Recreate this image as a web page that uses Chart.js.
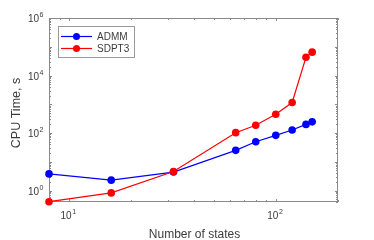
<!DOCTYPE html>
<html>
<head>
<meta charset="utf-8">
<script src="https://cdn.jsdelivr.net/npm/chart.js@4.4.0/dist/chart.umd.min.js"></script>
<style>
  html, body { margin: 0; padding: 0; background: #fff; }
  canvas { display: block; }
</style>
</head>
<body>
<canvas id="cpuChart" width="374" height="240"></canvas>
<script>
// données
const states = [8, 16, 32, 64, 80, 100, 120, 140, 150];
const admmTime = [3.8, 2.3, 4.4, 25, 50, 83, 128, 200, 245];
const sdpt3Time = [0.41, 0.83, 4.6, 103, 186, 450, 1150, 43000, 65000];
const seriesNames = ["ADMM", "SDPT3"];
const seriesColors = ["#0000ff", "#ff0000"];

// ticks
const xMajor = [10, 100];
const xLabels = ["1", "2"];     // exposants
const yMajor = [1, 100, 1e4, 1e6];
const yLabels = ["0", "2", "4", "6"];
const xMin = 8, xMax = 200;
const yMin = 0.4, yMax = 1e6;

const xTitle = "Number of states";
const yTitle = "CPU Time, s";

const axisColor = "#8a8a8a";
const textColor = "#3c3c3c";
const font = "'Liberation Sans', Arial, sans-serif";

function minorTicks(lo, hi) {
  const out = [];
  for (let e = Math.floor(Math.log10(lo)); e <= Math.ceil(Math.log10(hi)); e++) {
    for (let k = 1; k < 10; k++) {
      const v = k * Math.pow(10, e);
      if (v >= lo && v <= hi) out.push(v);
    }
  }
  return out;
}

// "10" + exposant
function drawPow(ctx, exp, x, y, align) {
  ctx.font = "10px " + font;
  const w1 = ctx.measureText("10").width;
  ctx.font = "7px " + font;
  const w2 = ctx.measureText(exp).width;
  let x0 = x;
  if (align === "center") x0 = x - (w1 + w2) / 2;
  if (align === "right") x0 = x - (w1 + w2);
  ctx.textAlign = "left";
  ctx.textBaseline = "alphabetic";
  ctx.font = "10px " + font;
  ctx.fillText("10", x0, y);
  ctx.font = "7px " + font;
  ctx.fillText(exp, x0 + w1 + 0.5, y - 5);
}

const axesPlugin = {
  id: "matlabAxes",
  beforeDatasetsDraw(chart) {
    const ctx = chart.ctx;
    const { left, right, top, bottom } = chart.chartArea;
    const xs = chart.scales.x, ys = chart.scales.y;
    ctx.save();
    ctx.strokeStyle = axisColor;
    ctx.lineWidth = 1;
    ctx.beginPath();
    // ticks x (bas et haut)
    minorTicks(xMin, xMax).forEach(v => {
      const px = Math.round(xs.getPixelForValue(v)) + 0.5;
      const len = xMajor.includes(v) ? 3 : 2;
      ctx.moveTo(px, bottom); ctx.lineTo(px, bottom - len);
      ctx.moveTo(px, top); ctx.lineTo(px, top + len);
    });
    // ticks y (gauche et droite)
    minorTicks(yMin, yMax).forEach(v => {
      const py = Math.round(ys.getPixelForValue(v)) + 0.5;
      const isDecade = Math.abs(Math.log10(v) - Math.round(Math.log10(v))) < 1e-9;
      const len = isDecade ? 3 : 2;
      ctx.moveTo(left, py); ctx.lineTo(left + len, py);
      ctx.moveTo(right, py); ctx.lineTo(right - len, py);
    });
    ctx.stroke();
    ctx.strokeRect(left + 0.5, top + 0.5, right - left - 1, bottom - top - 1);

    // labels
    ctx.fillStyle = textColor;
    xMajor.forEach((v, i) => {
      drawPow(ctx, xLabels[i], xs.getPixelForValue(v) - 1, bottom + 16.5, "center");
    });
    yMajor.forEach((v, i) => {
      drawPow(ctx, yLabels[i], left - 6, ys.getPixelForValue(v) + 4, "right");
    });

    // titres
    ctx.font = "12px " + font;
    ctx.textAlign = "center";
    ctx.textBaseline = "alphabetic";
    ctx.fillText(xTitle, (left + right) / 2 + 1, 238);
    ctx.font = "12.5px " + font;
    ctx.translate(20, (top + bottom) / 2 + 3);
    ctx.rotate(-Math.PI / 2);
    ctx.fillText(yTitle, 0, 0);
    ctx.restore();
  },
  afterDraw(chart) {
    // légende façon MATLAB
    const ctx = chart.ctx;
    ctx.save();
    ctx.fillStyle = "#fff";
    ctx.fillRect(58.5, 26.5, 76, 31);
    ctx.strokeStyle = "#9a9a9a";
    ctx.lineWidth = 1;
    ctx.strokeRect(58.5, 26.5, 76, 31);
    seriesNames.forEach((name, i) => {
      const y = 36.5 + i * 12;
      ctx.strokeStyle = seriesColors[i];
      ctx.lineWidth = 1.2;
      ctx.beginPath();
      ctx.moveTo(61, y); ctx.lineTo(92, y);
      ctx.stroke();
      ctx.fillStyle = seriesColors[i];
      ctx.beginPath();
      ctx.arc(76.5, y, 3.5, 0, Math.PI * 2);
      ctx.fill();
      ctx.fillStyle = textColor;
      ctx.font = "10px " + font;
      ctx.textAlign = "left";
      ctx.textBaseline = "middle";
      ctx.fillText(name, 97, y + 0.5);
    });
    ctx.restore();
  }
};

const toPoints = ys => states.map((x, i) => ({ x: x, y: ys[i] }));

new Chart(document.getElementById("cpuChart").getContext("2d"), {
  type: "scatter",
  data: {
    datasets: [
      {
        label: seriesNames[0],
        data: toPoints(admmTime),
        showLine: true,
        borderColor: seriesColors[0],
        backgroundColor: seriesColors[0],
        borderWidth: 1.2,
        pointRadius: 3.8,
        pointBorderWidth: 0,
        clip: false,
        order: 2
      },
      {
        label: seriesNames[1],
        data: toPoints(sdpt3Time),
        showLine: true,
        borderColor: seriesColors[1],
        backgroundColor: seriesColors[1],
        borderWidth: 1.2,
        pointRadius: 3.8,
        pointBorderWidth: 0,
        clip: false,
        order: 1
      }
    ]
  },
  options: {
    responsive: false,
    devicePixelRatio: 1,
    animation: false,
    layout: { padding: { left: 49, right: 36, top: 18, bottom: 38 } },
    plugins: {
      legend: { display: false },
      tooltip: { enabled: false }
    },
    scales: {
      x: { type: "logarithmic", min: xMin, max: xMax, display: false },
      y: { type: "logarithmic", min: yMin, max: yMax, display: false }
    }
  },
  plugins: [axesPlugin]
});
</script>
</body>
</html>
